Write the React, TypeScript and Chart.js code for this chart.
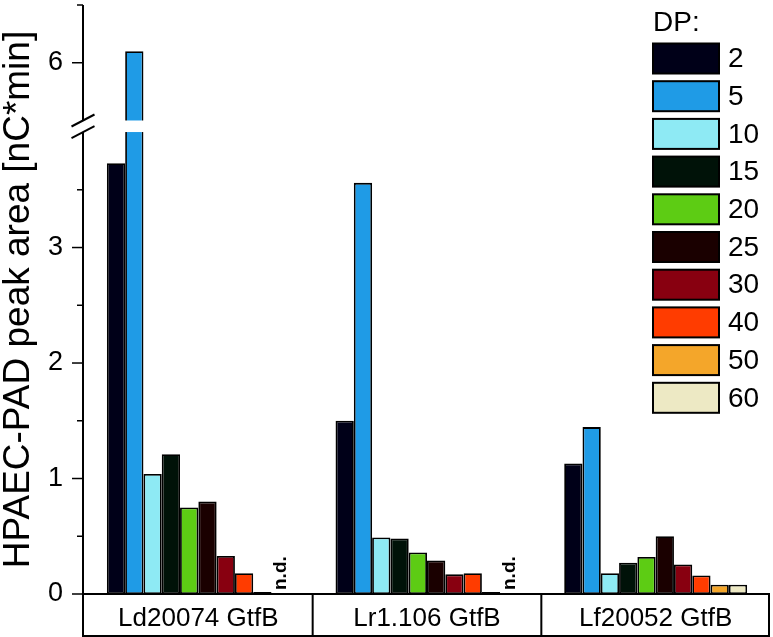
import React, { useEffect, useRef } from 'react';
import { Chart, registerables } from 'chart.js';
Chart.register(...registerables);

// ---- data ----
const categories = ['Ld20074 GtfB', 'Lr1.106 GtfB', 'Lf20052 GtfB'];
const dpLabels = ['2', '5', '10', '15', '20', '25', '30', '40', '50', '60'];
const dp2 = [3.73, 1.5, 1.13];
const dp5 = [6.1, 3.56, 1.445];
const dp10 = [1.04, 0.49, 0.18];
const dp15 = [1.21, 0.48, 0.27];
const dp20 = [0.75, 0.36, 0.32];
const dp25 = [0.8, 0.29, 0.5];
const dp30 = [0.33, 0.17, 0.255];
const dp40 = [0.18, 0.18, 0.16];
const dp50 = [0.01, 0.01, 0.08];
const dp60: (number | null)[] = [null, null, 0.08]; // null = n.d.
const dpColors = ['#000018', '#1f9be6', '#8eeaf4', '#001208', '#5dcc14', '#1a0000', '#880010', '#ff3c00', '#f4a62a', '#ede9c4'];
const yTickValues = [0, 0.5, 1, 1.5, 2, 2.5, 3, 3.5, 6, 6.5];
const yLabelValues = [0, 1, 2, 3, 6];
const yTitle = 'HPAEC-PAD peak area [nC*min]';
const legendTitle = 'DP:';
const ndText = 'n.d.';

// axis break
const BREAK_LOW = 4.0;
const BREAK_HIGH = 5.5;
const BREAK_SPACE = 0.1;
const SHIFT = BREAK_HIGH - BREAK_LOW - BREAK_SPACE;
const toDisplay = (v: number) => (v >= BREAK_HIGH ? v - SHIFT : v);
const fromDisplay = (d: number) => (d > BREAK_LOW + BREAK_SPACE / 2 ? d + SHIFT : d);

const series = [dp2, dp5, dp10, dp15, dp20, dp25, dp30, dp40, dp50, dp60];
const FONT = '"Liberation Sans", Arial, Helvetica, sans-serif';

const customPlugin = {
  id: 'customDraw',
  afterDatasetsDraw(chart: any) {
    const { ctx, scales } = chart;
    const y = scales.y;
    const yHi = y.getPixelForValue(BREAK_LOW + BREAK_SPACE);
    const yLo = y.getPixelForValue(BREAK_LOW);
    ctx.save();
    chart.data.datasets.forEach((ds: any, di: number) => {
      const meta = chart.getDatasetMeta(di);
      const raw = series[di];
      meta.data.forEach((bar: any, i: number) => {
        const v = raw[i];
        if (v != null && v > BREAK_LOW) {
          ctx.fillStyle = '#ffffff';
          ctx.fillRect(bar.x - bar.width / 2 - 2, yHi, bar.width + 4, yLo - yHi);
        }
        if (v == null) {
          ctx.save();
          ctx.translate(bar.x, y.getPixelForValue(0) - 4);
          ctx.rotate(-Math.PI / 2);
          ctx.font = `bold 19px ${FONT}`;
          ctx.fillStyle = '#000';
          ctx.textAlign = 'left';
          ctx.textBaseline = 'middle';
          ctx.fillText(ndText, 0, 0);
          ctx.restore();
        }
      });
    });
    ctx.restore();
  },
  afterDraw(chart: any) {
    const { ctx, chartArea, scales } = chart;
    const x = scales.x;
    const y = scales.y;
    const H = chart.height;
    const yHi = y.getPixelForValue(BREAK_LOW + BREAK_SPACE);
    const yLo = y.getPixelForValue(BREAK_LOW);
    const ax = chartArea.left - 1;
    ctx.save();
    ctx.strokeStyle = '#000';
    ctx.lineWidth = 2;
    // y axis line with break
    ctx.beginPath();
    ctx.moveTo(ax, chartArea.top);
    ctx.lineTo(ax, yHi);
    ctx.moveTo(ax, yLo);
    ctx.lineTo(ax, H);
    ctx.stroke();
    // ticks
    ctx.lineWidth = 1.5;
    yTickValues.forEach((v) => {
      const py = y.getPixelForValue(toDisplay(v));
      const len = yLabelValues.includes(v) ? 11 : 6;
      ctx.beginPath();
      ctx.moveTo(ax - len, py);
      ctx.lineTo(ax, py);
      ctx.stroke();
    });
    // break marks
    ctx.lineWidth = 2;
    [yHi, yLo].forEach((cy) => {
      ctx.beginPath();
      ctx.moveTo(ax - 11.5, cy + 6);
      ctx.lineTo(ax + 11.5, cy - 6);
      ctx.stroke();
    });
    // category box
    const bottom = chartArea.bottom;
    ctx.lineWidth = 2;
    ctx.beginPath();
    ctx.moveTo(ax, bottom);
    ctx.lineTo(chartArea.right, bottom);
    ctx.moveTo(ax, H - 1);
    ctx.lineTo(chartArea.right, H - 1);
    const n = categories.length;
    for (let i = 1; i <= n; i++) {
      const px = i < n ? (x.getPixelForValue(i - 1) + x.getPixelForValue(i)) / 2 : chartArea.right - 1;
      ctx.moveTo(px, bottom);
      ctx.lineTo(px, H);
    }
    ctx.stroke();
    // legend
    const lx = 653;
    ctx.fillStyle = '#000';
    ctx.font = `28px ${FONT}`;
    ctx.textAlign = 'left';
    ctx.textBaseline = 'middle';
    ctx.fillText(legendTitle, lx, 23);
    chart.data.datasets.forEach((ds: any, i: number) => {
      const top = 43.5 + i * 37.7;
      ctx.fillStyle = ds.backgroundColor;
      ctx.fillRect(lx, top, 66, 30);
      ctx.lineWidth = 2;
      ctx.strokeStyle = '#000';
      ctx.strokeRect(lx, top, 66, 30);
      ctx.fillStyle = '#000';
      ctx.fillText(ds.label, lx + 75, top + 16);
    });
    ctx.restore();
  },
};

export default function App() {
  const ref = useRef<HTMLCanvasElement | null>(null);
  useEffect(() => {
    if (!ref.current) return;
    const chart = new Chart(ref.current, {
      type: 'bar',
      data: {
        labels: categories,
        datasets: series.map((s, i) => ({
          label: dpLabels[i],
          data: s.map((v) => (v == null ? null : toDisplay(v))),
          backgroundColor: dpColors[i],
          borderColor: '#000',
          borderWidth: 1.8,
          borderSkipped: false,
          minBarLength: 2,
          categoryPercentage: 0.8,
          barPercentage: 1.0,
        })),
      },
      options: {
        responsive: false,
        animation: false,
        layout: { padding: { top: 5, right: 3, left: 0, bottom: 0 } },
        plugins: { legend: { display: false }, tooltip: { enabled: false } },
        scales: {
          x: {
            grid: { display: false, drawTicks: false },
            border: { display: false },
            ticks: { font: { family: FONT, size: 26 }, color: '#000', padding: 9, maxRotation: 0, autoSkip: false },
            afterFit: (s: any) => {
              s.height = 43;
              s.paddingLeft = 0;
              s.paddingRight = 0;
            },
          },
          y: {
            min: 0,
            max: toDisplay(6.5),
            grid: { display: false, drawTicks: false },
            border: { display: false },
            afterBuildTicks: (s: any) => {
              s.ticks = yTickValues.map((v) => ({ value: toDisplay(v) }));
            },
            ticks: {
              font: { family: FONT, size: 27 },
              color: '#000',
              padding: 21,
              autoSkip: false,
              callback: (val: any) => {
                const r = Math.round(fromDisplay(Number(val)) * 100) / 100;
                return yLabelValues.includes(r) ? String(r) : '';
              },
            },
            title: {
              display: true,
              text: yTitle,
              color: '#000',
              font: { family: FONT, size: 37, lineHeight: 1 },
              padding: { top: 0, bottom: 0 },
            },
            afterFit: (s: any) => {
              s.width = 84;
              s.paddingTop = 0;
              s.paddingBottom = 0;
            },
          },
        },
      },
      plugins: [customPlugin],
    } as any);
    return () => chart.destroy();
  }, []);
  return (
    <div style={{ position: 'fixed', left: 0, top: 0, width: 773, height: 637, background: '#fff' }}>
      <canvas ref={ref} width={773} height={637} />
    </div>
  );
}
